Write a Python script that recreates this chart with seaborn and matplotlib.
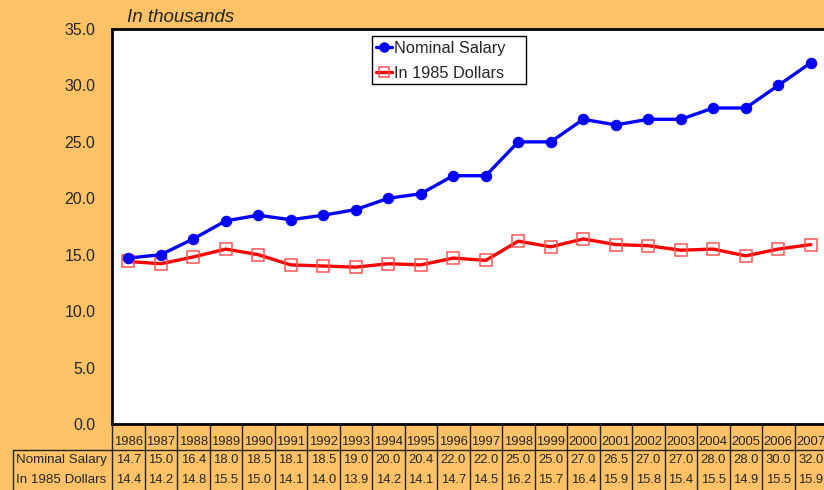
import matplotlib
matplotlib.use("Agg")
import matplotlib.pyplot as plt
from matplotlib.patches import Rectangle
import seaborn as sns
import pandas as pd
import numpy as np

sns.set_style("white")
plt.rcParams["font.family"] = ["Liberation Sans", "DejaVu Sans"]

years = list(range(1986, 2008))
nominal = [14.7, 15.0, 16.4, 18.0, 18.5, 18.1, 18.5, 19.0, 20.0, 20.4, 22.0,
           22.0, 25.0, 25.0, 27.0, 26.5, 27.0, 27.0, 28.0, 28.0, 30.0, 32.0]
real_1985 = [14.4, 14.2, 14.8, 15.5, 15.0, 14.1, 14.0, 13.9, 14.2, 14.1, 14.7,
             14.5, 16.2, 15.7, 16.4, 15.9, 15.8, 15.4, 15.5, 14.9, 15.5, 15.9]
series_names = ["Nominal Salary", "In 1985 Dollars"]
y_ticks = [0, 5, 10, 15, 20, 25, 30, 35]

bg = "#FFC266"
W, H = 824, 490
fig = plt.figure(figsize=(W / 100, H / 100), dpi=100, facecolor=bg)

# plot area in pixels
px_left, px_top, px_bottom = 112, 29, 424
col_w = 32.5
n = len(years)
px_right = px_left + n * col_w
pw, ph = px_right - px_left, px_bottom - px_top

ax = fig.add_axes([px_left / W, (H - px_bottom) / H, pw / W, ph / H])
ax.set_facecolor("white")

df = pd.DataFrame({"idx": np.arange(n), "nominal": nominal, "real": real_1985})

sns.lineplot(data=df, x="idx", y="real", ax=ax, color="#FF0000", lw=2.4,
             marker="s", markersize=8, markerfacecolor="none",
             markeredgecolor="#FF5555", markeredgewidth=1.1,
             label=series_names[1], zorder=3)
sns.lineplot(data=df, x="idx", y="nominal", ax=ax, color="#0000FF", lw=2.4,
             marker="o", markersize=7.5, markeredgecolor="#0000FF",
             label=series_names[0], zorder=4)

ax.set_xlim(-0.5, n - 0.5)
ax.set_ylim(0, 35)
ax.set_yticks(y_ticks)
ax.set_yticklabels([f"{v:.1f}" for v in y_ticks], fontsize=11.4)
ax.tick_params(axis="y", length=0, pad=12)
ax.set_xticks([])
ax.set_xlabel("")
ax.set_ylabel("")
for s in ["left", "top", "bottom"]:
    ax.spines[s].set_visible(True)
    ax.spines[s].set_color("black")
    ax.spines[s].set_linewidth(2)
ax.spines["right"].set_visible(False)

# legend box drawn separately so its padding can be uneven
lx0, ly0, lx1, ly1 = 372, 36, 526, 84
box = Rectangle(((lx0 - px_left) / pw, (px_bottom - ly1) / ph),
                (lx1 - lx0) / pw, (ly1 - ly0) / ph, transform=ax.transAxes,
                facecolor="white", edgecolor="black", lw=1.0, zorder=5)
ax.add_patch(box)

handles, labels = ax.get_legend_handles_labels()
order = [labels.index(series_names[0]), labels.index(series_names[1])]
leg = ax.legend([handles[i] for i in order], [labels[i] for i in order],
                loc="upper left",
                bbox_to_anchor=((lx0 + 4) / W, 1 - (ly0 + 5) / H),
                bbox_transform=fig.transFigure,
                fontsize=11.8, frameon=False, handlelength=1.0,
                handletextpad=0.1, labelspacing=0.62, borderpad=0,
                borderaxespad=0, markerscale=0.9)
leg.set_zorder(6)

fig.text(127 / W, 1 - 17 / H, "In thousands", fontsize=13.5, style="italic",
         ha="left", va="center")

# data table under the plot
tab = fig.add_axes([px_left / W, 0, pw / W, (H - px_bottom) / H])
tab.set_xlim(-0.5, n - 0.5)
tab.set_ylim(0, H - px_bottom)
tab.axis("off")
tab.patch.set_alpha(0)

lc = "#222222"
row_line = H - 450
label_left = -0.5 + (13 - px_left) / col_w
for i in range(n + 1):
    tab.plot([i - 0.5, i - 0.5], [0, H - px_bottom], color=lc, lw=1.0,
             clip_on=False)
tab.plot([label_left, n - 0.5], [row_line, row_line], color=lc, lw=1.0,
         clip_on=False)
tab.plot([label_left, label_left], [0, row_line], color=lc, lw=1.0,
         clip_on=False)

y_year, y_nom, y_real = H - 442, H - 460, H - 480
for i, yr in enumerate(years):
    tab.text(i, y_year, str(yr), fontsize=9.4, ha="center", va="center",
             clip_on=False)
    tab.text(i, y_nom, f"{nominal[i]:.1f}", fontsize=9.4, ha="center",
             va="center", clip_on=False)
    tab.text(i, y_real, f"{real_1985[i]:.1f}", fontsize=9.4, ha="center",
             va="center", clip_on=False)

lbl_x = -0.5 + (16 - px_left) / col_w
tab.text(lbl_x, y_nom, series_names[0], fontsize=9.6, ha="left",
         va="center", clip_on=False)
tab.text(lbl_x, y_real, series_names[1], fontsize=9.6, ha="left",
         va="center", clip_on=False)

fig.savefig("out.png", dpi=100, facecolor=bg)
